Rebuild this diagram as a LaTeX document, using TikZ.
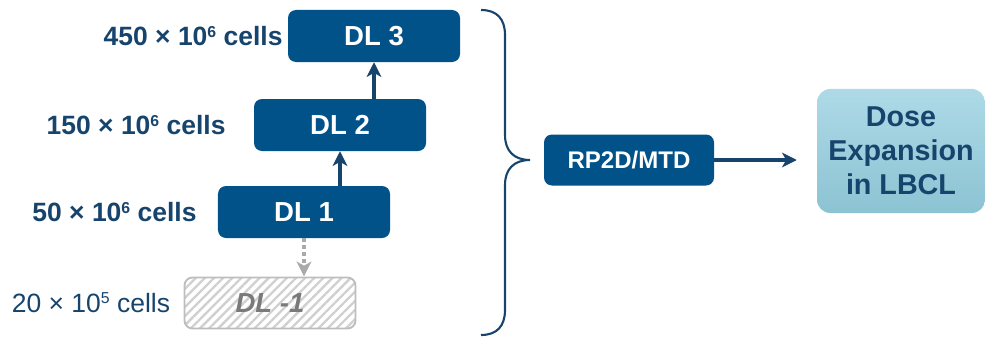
\documentclass[tikz,border=0pt]{standalone}
\usepackage{fontspec}
\setmainfont{Liberation Sans}
\usetikzlibrary{arrows.meta,positioning,patterns.meta}
\definecolor{dlblue}{HTML}{02528A}
\definecolor{darkblue}{HTML}{17446C}
\definecolor{hatchgray}{HTML}{D0D0D0}
\definecolor{edgegray}{HTML}{BDBDBD}
\definecolor{dlgray}{HTML}{7A7A7A}
\definecolor{dosetop}{HTML}{AEDAE7}
\definecolor{dosebot}{HTML}{8CC3D3}
% power of ten, set small and level with the digits
\newcommand{\pten}[1]{\raisebox{0.33em}{\fontsize{13.5}{13.5}\selectfont #1}}

\begin{document}
\begin{tikzpicture}[%
    x=0.03cm, y=-0.03cm,        % one unit is one pixel of the sketch
    >={Stealth[length=4.4mm, width=4.4mm, inset=1.2mm]},
    ]
% -------------------------------------------------
% Box and text styles
\tikzset{
  boxbase/.style={rounded corners=2.4mm, inner sep=0pt, align=center},
  dlbox/.style={boxbase, fill=dlblue, text=white, minimum width=5.16cm,
    minimum height=1.56cm, font=\fontsize{23.5}{27}\selectfont\bfseries},
  offbox/.style={boxbase, draw=edgegray, line width=1.6pt,
    pattern={Lines[angle=45, distance=5.5pt, line width=2pt]},
    pattern color=hatchgray, text=dlgray, minimum width=5.13cm,
    minimum height=1.53cm, font=\fontsize{23.5}{27}\selectfont\bfseries\itshape},
  dosebox/.style={boxbase, rounded corners=4mm, top color=dosetop,
    bottom color=dosebot, text=darkblue, minimum width=5.04cm,
    minimum height=3.72cm, font=\fontsize{24.5}{29}\selectfont\bfseries},
  celltxt/.style={text=darkblue, inner sep=0pt,
    font=\fontsize{22.6}{26}\selectfont\bfseries},
  % Connector line styles
  uparrow/.style={->, draw=darkblue, line width=3.2pt},
  downarrow/.style={->, draw=edgegray!90!black, line width=3pt,
    dash pattern=on 3pt off 3pt},
  bracepath/.style={draw=darkblue, line width=1.8pt}
}
\useasboundingbox (0,0) rectangle (985,337);
% -------------------------------------------------
% Dose levels, from the top
\node [dlbox] (dl3) at (374,36) {DL 3};
\node [dlbox] (dl2) at (340,125) {DL 2};
\node [dlbox] (dl1) at (304,212) {DL 1};
\node [offbox] (dlm1) at (270,303) {DL -1};

% Cell counts to the left of each level
\node [celltxt, left=0.15cm of dl3] (c3) {450 × 10\pten{6} cells};
\node [celltxt, left=0.84cm of dl2] (c2) {150 × 10\pten{6} cells};
\node [celltxt, left=0.63cm of dl1] (c1) {50 × 10\pten{6} cells};
\node [celltxt, font=\fontsize{22.6}{26}\selectfont, left=0.39cm of dlm1] (cm1)
  {20 × 10\pten{5} cells};

\draw [uparrow] (dl1.north -| dl2) -- (dl2.south);
\draw [uparrow] (dl2.north -| dl3) -- (dl3.south);
\draw [downarrow] (dl1.south) -- (dl1.south |- dlm1.north);

% -------------------------------------------------
% Brace and the way out
\coordinate (tip) at (530,160);
\draw [bracepath] (481,10) .. controls (497,10) and (505,19) .. (505,35)
  -- (505,135) .. controls (505,151) and (514,160) .. (tip)
  .. controls (514,160) and (505,169) .. (505,185)
  -- (505,310) .. controls (505,326) and (497,335) .. (481,335);

\node [dlbox, minimum width=5.1cm, minimum height=1.53cm,
  font=\fontsize{20.5}{24}\selectfont\bfseries] (rp2d) at (629,160) {RP2D/MTD};
\node [dosebox] (dose) at (901,151) {Dose\\Expansion\\in LBCL};

\draw [uparrow, shorten >=0.6cm] (rp2d) -- (dose.west |- rp2d);
% -------------------------------------------------
\end{tikzpicture}
\end{document}
